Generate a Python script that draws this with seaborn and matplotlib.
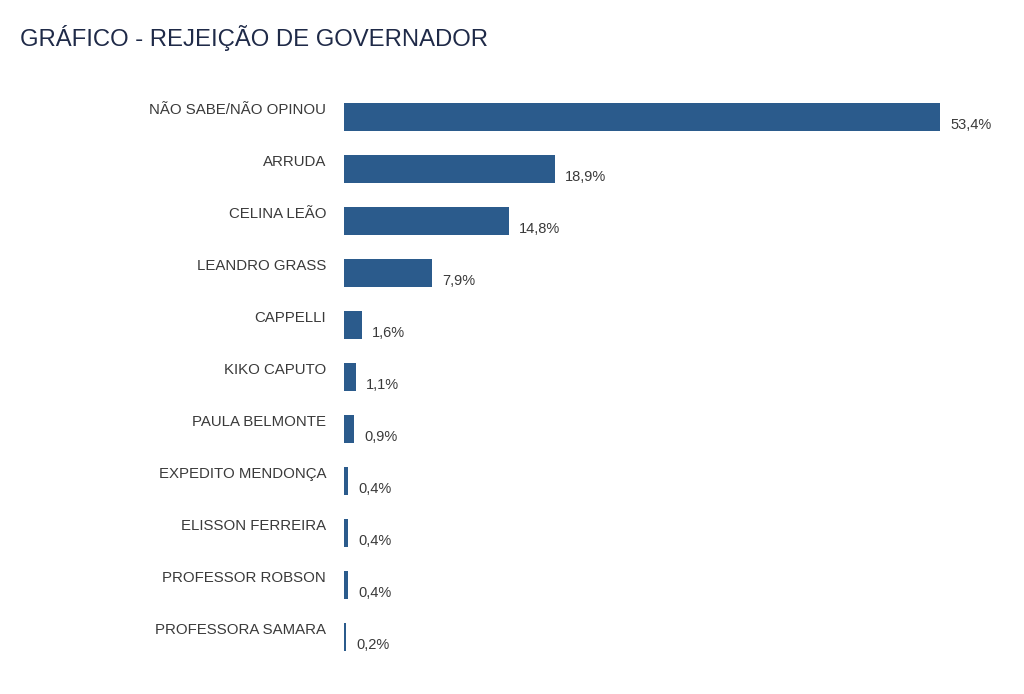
import matplotlib
matplotlib.use("Agg")
import matplotlib.pyplot as plt
import pandas as pd
import seaborn as sns

candidatos = ["NÃO SABE/NÃO OPINOU", "ARRUDA", "CELINA LEÃO", "LEANDRO GRASS",
              "CAPPELLI", "KIKO CAPUTO", "PAULA BELMONTE", "EXPEDITO MENDONÇA",
              "ELISSON FERREIRA", "PROFESSOR ROBSON", "PROFESSORA SAMARA"]
rejeicao = [53.4, 18.9, 14.8, 7.9, 1.6, 1.1, 0.9, 0.4, 0.4, 0.4, 0.2]
rotulos = ["53,4%", "18,9%", "14,8%", "7,9%", "1,6%", "1,1%", "0,9%",
           "0,4%", "0,4%", "0,4%", "0,2%"]

df = pd.DataFrame({"candidato": candidatos, "valor": rejeicao})

sns.set_theme(style="white")
plt.rcParams["font.family"] = ["Liberation Sans", "DejaVu Sans"]

fig = plt.figure(figsize=(10.24, 6.94), dpi=100)
ax = fig.add_axes([344 / 1024, 1 - 663 / 694, 670 / 1024, 572 / 694])

sns.barplot(data=df, x="valor", y="candidato", color="#2b5b8c", saturation=1,
            width=0.52, linewidth=0, ax=ax)

ax.set_xlim(0, 60)
ax.set_ylim(10.5, -0.5)
ax.set_xticks([])
ax.set_yticks([])
ax.set_xlabel("")
ax.set_ylabel("")
sns.despine(ax=ax, left=True, bottom=True)

for i, (nome, v, r) in enumerate(zip(candidatos, rejeicao, rotulos)):
    ax.text(-1.6, i - 0.13, nome, ha="right", va="center",
            fontsize=10.8, color="#3a3a3a")
    ax.text(v + 0.9, i + 0.16, r, ha="left", va="center",
            fontsize=10.5, color="#3a3a3a")

fig.text(20 / 1024, 1 - 38 / 694, "GRÁFICO - REJEIÇÃO DE GOVERNADOR",
         ha="left", va="center", fontsize=17.2, color="#1f2a48")

fig.savefig("out.png", dpi=100)
